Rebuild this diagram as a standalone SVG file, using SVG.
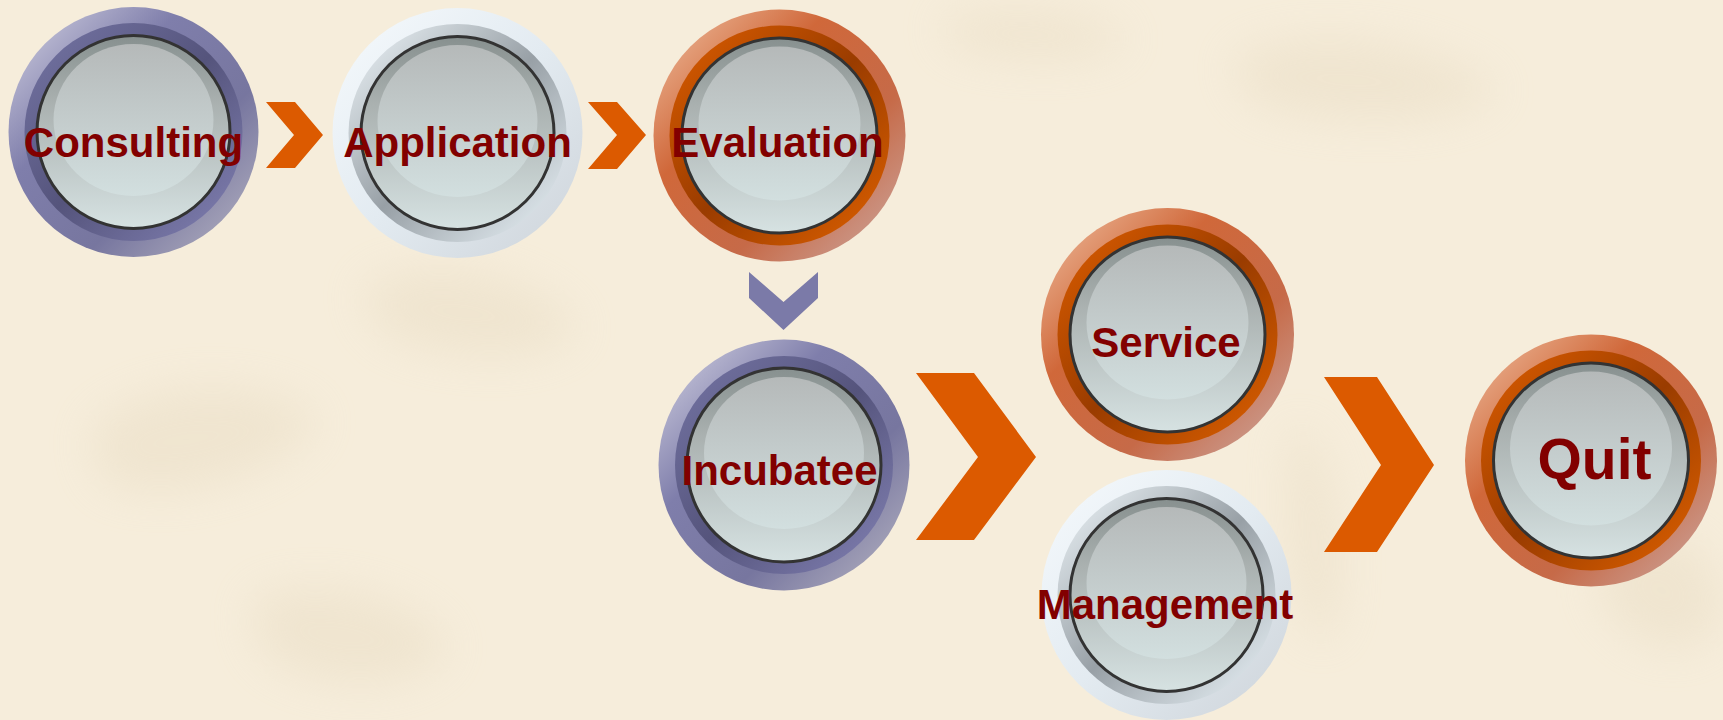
<svg xmlns="http://www.w3.org/2000/svg" width="1723" height="720" viewBox="0 0 1723 720">
<defs>
  <style>
    .lbl{font-family:"Liberation Sans",Arial,sans-serif;font-weight:bold;font-size:42px;fill:#820000;text-anchor:middle}
    .rim{stroke:#333333;stroke-width:3}
    .chev{fill:#dc5a00}
    .chevp{fill:#7b7aa8}
  </style>
  <linearGradient id="pOut" x1="0" y1="0" x2="1" y2="1">
    <stop offset="0" stop-color="#d6d5e4"/>
    <stop offset="0.35" stop-color="#7f7eab"/>
    <stop offset="0.65" stop-color="#77769f"/>
    <stop offset="1" stop-color="#bab8c4"/>
  </linearGradient>
  <linearGradient id="pIn" x1="0" y1="0" x2="1" y2="1">
    <stop offset="0" stop-color="#7676a6"/>
    <stop offset="0.5" stop-color="#55547c"/>
    <stop offset="1" stop-color="#8483b6"/>
  </linearGradient>
  <linearGradient id="oOut" x1="0" y1="0" x2="1" y2="1">
    <stop offset="0" stop-color="#f0c2a4"/>
    <stop offset="0.35" stop-color="#d0683a"/>
    <stop offset="0.65" stop-color="#c66a48"/>
    <stop offset="1" stop-color="#cdaca6"/>
  </linearGradient>
  <linearGradient id="oIn" x1="0" y1="0" x2="1" y2="1">
    <stop offset="0" stop-color="#de5e00"/>
    <stop offset="0.5" stop-color="#9a3c00"/>
    <stop offset="1" stop-color="#e06200"/>
  </linearGradient>
  <linearGradient id="sOut" x1="0" y1="0" x2="1" y2="1">
    <stop offset="0" stop-color="#f6fafd"/>
    <stop offset="0.5" stop-color="#e3ebf1"/>
    <stop offset="1" stop-color="#cdd3d9"/>
  </linearGradient>
  <linearGradient id="sIn" x1="0" y1="0" x2="1" y2="1">
    <stop offset="0" stop-color="#f0f7fb"/>
    <stop offset="0.5" stop-color="#98a0a6"/>
    <stop offset="1" stop-color="#eef7fc"/>
  </linearGradient>
  <linearGradient id="face" x1="0" y1="0" x2="0" y2="1">
    <stop offset="0" stop-color="#87908f"/>
    <stop offset="0.35" stop-color="#aab1b0"/>
    <stop offset="1" stop-color="#d6e2e2"/>
  </linearGradient>
  <linearGradient id="hl" x1="0" y1="0" x2="0" y2="1">
    <stop offset="0" stop-color="#b5b9b9"/>
    <stop offset="1" stop-color="#d2dfdf"/>
  </linearGradient>
  <filter id="blur" x="-30%" y="-30%" width="160%" height="160%">
    <feGaussianBlur stdDeviation="22"/>
  </filter>
</defs>

<rect width="1723" height="720" fill="#f6eddb"/>
<g id="background" filter="url(#blur)" fill="#e6d9bf" opacity="0.4">
  <path d="M90 430 C150 370 280 380 320 420 C280 480 160 510 100 480 Z"/>
  <path d="M360 290 C420 250 540 270 580 330 C540 370 430 360 380 330 Z"/>
  <path d="M1230 60 C1300 20 1440 40 1500 90 C1460 130 1320 130 1250 100 Z"/>
  <path d="M940 20 C1000 0 1100 10 1130 40 C1090 70 990 60 950 45 Z"/>
  <path d="M1600 560 C1650 510 1723 530 1723 620 C1690 670 1630 650 1600 600 Z"/>
  <path d="M250 600 C320 570 430 600 450 650 C410 700 300 690 260 650 Z"/>
  <path d="M1290 430 C1320 400 1360 560 1330 640 C1300 650 1280 560 1290 430 Z"/>
</g>

<g id="connectors">
  <polygon class="chev" points="266,102 295,102 323,135 295,168 266,168 294,135"/>
  <polygon class="chev" points="588,102 617,102 646,135 617,169 588,169 617,135"/>
  <polygon class="chevp" points="749,272 783.5,302 818,272 818,298 783.5,330 749,298"/>
  <polygon class="chev" points="916,373 974,373 1036,457 974,540 916,540 978,457"/>
  <polygon class="chev" points="1324,377 1377,377 1434,465 1377,552 1324,552 1381,465"/>
</g>

<g id="consulting" transform="translate(133.5,132)">
  <circle r="125" fill="url(#pOut)"/>
  <circle r="109" fill="url(#pIn)"/>
  <circle r="96.5" fill="url(#face)" class="rim"/>
  <ellipse cx="0" cy="-12" rx="80" ry="76" fill="url(#hl)"/>
  <text class="lbl" x="0" y="25">Consulting</text>
</g>

<g id="application" transform="translate(457.5,133)">
  <circle r="125" fill="url(#sOut)"/>
  <circle r="109" fill="url(#sIn)"/>
  <circle r="96.5" fill="url(#face)" class="rim"/>
  <ellipse cx="0" cy="-12" rx="80" ry="76" fill="url(#hl)"/>
  <text class="lbl" x="0" y="24">Application</text>
</g>

<g id="evaluation" transform="translate(779.5,135.5)">
  <circle r="126" fill="url(#oOut)"/>
  <circle r="110" fill="url(#oIn)"/>
  <circle r="97.5" fill="url(#face)" class="rim"/>
  <ellipse cx="0" cy="-12" rx="81" ry="77" fill="url(#hl)"/>
  <text class="lbl" x="-2" y="21.5">Evaluation</text>
</g>

<g id="incubatee" transform="translate(784,465)">
  <circle r="125.5" fill="url(#pOut)"/>
  <circle r="109" fill="url(#pIn)"/>
  <circle r="97" fill="url(#face)" class="rim"/>
  <ellipse cx="0" cy="-12" rx="80" ry="76" fill="url(#hl)"/>
  <text class="lbl" x="-4.5" y="20">Incubatee</text>
</g>

<g id="service" transform="translate(1167.5,334.5)">
  <circle r="126.5" fill="url(#oOut)"/>
  <circle r="110" fill="url(#oIn)"/>
  <circle r="97.5" fill="url(#face)" class="rim"/>
  <ellipse cx="0" cy="-12" rx="81" ry="77" fill="url(#hl)"/>
  <text class="lbl" x="-1.5" y="22.5">Service</text>
</g>

<g id="management" transform="translate(1166.5,595)">
  <circle r="125" fill="url(#sOut)"/>
  <circle r="109" fill="url(#sIn)"/>
  <circle r="96.5" fill="url(#face)" class="rim"/>
  <ellipse cx="0" cy="-12" rx="80" ry="76" fill="url(#hl)"/>
  <text class="lbl" x="-1.5" y="24">Management</text>
</g>

<g id="quit" transform="translate(1591,460.5)">
  <circle r="126" fill="url(#oOut)"/>
  <circle r="110" fill="url(#oIn)"/>
  <circle r="97.5" fill="url(#face)" class="rim"/>
  <ellipse cx="0" cy="-12" rx="81" ry="77" fill="url(#hl)"/>
  <text class="lbl" x="3.5" y="18" style="font-size:57px">Quit</text>
</g>
</svg>
